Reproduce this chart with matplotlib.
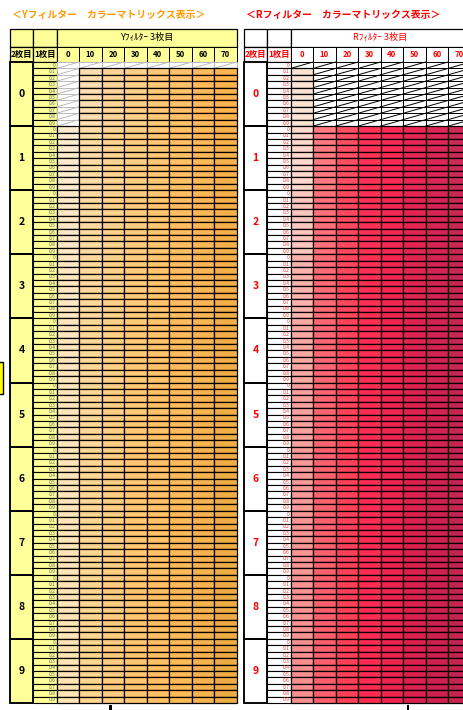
import matplotlib
matplotlib.use("Agg")
import matplotlib.pyplot as plt
from matplotlib.patches import Rectangle

plt.rcParams['font.family'] = ['Noto Sans CJK JP', 'DejaVu Sans']

# ---- data ----
second_vals = [0, 1, 2, 3, 4, 5, 6, 7, 8, 9]            # 2枚目
first_labels = ["0", "0.1", "0.2", "0.3", "0.4", "0.5", "0.6", "0.7", "0.8", "0.9"]  # 1枚目
third_labels = ["0", "10", "20", "30", "40", "50", "60", "70"]                      # 3枚目

y_colors = [
    ['#FFFFFF', '#FFDDB0', '#FFD496', '#FFCF88', '#FFC978', '#FFC26A', '#FFBB5A', '#FDB44C'],
    ['#FFEBD0', '#FFDCA6', '#FFD390', '#FFCD82', '#FFC774', '#FFC066', '#FCB958', '#F8B24C'],
    ['#FFE8C6', '#FFDAA0', '#FFD18A', '#FFCB7E', '#FFC570', '#FFBE62', '#FAB756', '#F5B04A'],
    ['#FFE7C0', '#FFD99C', '#FFD088', '#FFCA7A', '#FFC46C', '#FDBD60', '#F9B654', '#F3AF48'],
    ['#FFE6BC', '#FFD898', '#FFCF84', '#FFC976', '#FFC36A', '#FCBC5E', '#F7B552', '#F1AE46'],
    ['#FFE6BA', '#FFD796', '#FFCE82', '#FFC874', '#FFC268', '#FCBB5C', '#F6B451', '#F0AE46'],
    ['#FFE5B8', '#FFD794', '#FFCD81', '#FFC773', '#FFC167', '#FBBB5B', '#F5B450', '#EFAD45'],
    ['#FFE5B7', '#FFD692', '#FFCD80', '#FFC772', '#FFC166', '#FBBA5A', '#F5B34F', '#EEAD45'],
    ['#FFE4B5', '#FFD691', '#FFCC7F', '#FFC671', '#FFC065', '#FABA59', '#F4B34E', '#EEAD44'],
    ['#FFE4B4', '#FFD690', '#FFCC7E', '#FFC670', '#FFC064', '#FABA58', '#F4B34E', '#EDAD44'],
]

r_colors = [
    ['#FCE4D2', '#FFFFFF', '#FFFFFF', '#FFFFFF', '#FFFFFF', '#FFFFFF', '#FFFFFF', '#FFFFFF'],
    ['#FED8CC', '#FF7A80', '#FF4D62', '#FF3256', '#FA2A54', '#E82754', '#DA2755', '#CC2A56'],
    ['#FCC6BE', '#FF7078', '#FF485E', '#FF3055', '#F42852', '#E42552', '#D62554', '#C92855'],
    ['#FAB2AA', '#FE6A74', '#FF455C', '#FF2E54', '#F22651', '#E22451', '#D42453', '#C82754'],
    ['#F9A8A2', '#FD6672', '#FE435B', '#FE2D53', '#F02550', '#E02350', '#D22352', '#C72653'],
    ['#F8A09C', '#FC6470', '#FE425A', '#FE2C52', '#EF244F', '#DF224F', '#D12251', '#C62552'],
    ['#F89A98', '#FC626E', '#FE4159', '#FE2B52', '#EF244F', '#DE224F', '#D02251', '#C62552'],
    ['#F89694', '#FB606D', '#FD4059', '#FD2A51', '#EE234E', '#DD214E', '#CF2150', '#C52451'],
    ['#F89391', '#FB5F6C', '#FD4058', '#FD2A51', '#EE234E', '#DD214E', '#CF2150', '#C52451'],
    ['#F8908F', '#FB5F6C', '#FD4058', '#FD2A51', '#EE234E', '#DD214E', '#CF2150', '#C52451'],
]

# ---- figure in pixel units ----
W, H = 464, 710
fig = plt.figure(figsize=(W / 100, H / 100), dpi=100)
ax = fig.add_axes([0, 0, 1, 1])
ax.set_xlim(0, W)
ax.set_ylim(H, 0)
ax.axis('off')

YELLOW = '#FFFF99'
TOP = 29.0
H1 = 17.5
H2 = 15.5
ROW_H = 6.41
COL_W = 22.5
LAB1_W = 23.3
LAB2_W = 23.3


def cell(x, y, w, h, fc, ec='black', lw=0.9, z=1):
    ax.add_patch(Rectangle((x, y), w, h, facecolor=fc, edgecolor=ec, lw=lw, zorder=z))


def draw_table(x0, colors, hatched, head_fc, txt_color, lab_color, title, title_color, sub_title):
    ax.text(x0 + 2, 14.5, title, color=title_color, fontsize=7.1, fontweight='bold',
            ha='left', va='center')
    xd = x0 + LAB2_W + LAB1_W
    data_w = COL_W * len(third_labels)
    # header row 1
    cell(x0, TOP, LAB2_W, H1, head_fc)
    cell(x0 + LAB2_W, TOP, LAB1_W, H1, head_fc)
    cell(xd, TOP, data_w, H1, head_fc)
    ax.text(xd + data_w / 2, TOP + H1 / 2, sub_title, color=txt_color, fontsize=6.6,
            ha='center', va='center')
    # header row 2
    y2 = TOP + H1
    cell(x0, y2, LAB2_W, H2, head_fc)
    ax.text(x0 + LAB2_W / 2, y2 + H2 / 2, "2枚目", color=txt_color, fontsize=6.0,
            fontweight='bold', ha='center', va='center')
    cell(x0 + LAB2_W, y2, LAB1_W, H2, head_fc)
    ax.text(x0 + LAB2_W + LAB1_W / 2, y2 + H2 / 2, "1枚目", color=txt_color, fontsize=6.0,
            fontweight='bold', ha='center', va='center')
    for j, t in enumerate(third_labels):
        cell(xd + j * COL_W, y2, COL_W, H2, head_fc, lw=0.7)
        ax.text(xd + j * COL_W + COL_W / 2, y2 + H2 / 2, t, color=txt_color, fontsize=5.6,
                fontweight='bold', ha='center', va='center')
    # body
    yb = y2 + H2
    for b, s in enumerate(second_vals):
        by = yb + b * ROW_H * len(first_labels)
        bh = ROW_H * len(first_labels)
        cell(x0, by, LAB2_W, bh, head_fc, lw=1.1, z=2)
        ax.text(x0 + LAB2_W / 2, by + bh / 2, str(s), color=txt_color, fontsize=7.5,
                fontweight='bold', ha='center', va='center', zorder=3)
        for i, fl in enumerate(first_labels):
            ry = by + i * ROW_H
            cell(x0 + LAB2_W, ry, LAB1_W, ROW_H, lab_color[0], lw=0.8)
            ax.text(x0 + LAB2_W + LAB1_W - 1.2, ry + ROW_H / 2 + 0.2, fl, color=lab_color[1],
                    fontsize=3.6, ha='right', va='center')
            for j in range(len(third_labels)):
                cx = xd + j * COL_W
                if hatched(b, i, j):
                    hc = lab_color[2]
                    cell(cx, ry, COL_W, ROW_H, '#FFFFFF', ec=hc, lw=0.7, z=1)
                    ax.plot([cx, cx + COL_W], [ry + ROW_H, ry], color=hc, lw=0.7, zorder=1.5)
                else:
                    cell(cx, ry, COL_W, ROW_H, colors[b][j], lw=0.9, z=2)
        cell(x0, by, LAB2_W, bh, 'none', lw=1.1, z=4)


def y_hatch(b, i, j):
    return second_vals[b] == 0 and (i == 0 or j == 0)


def r_hatch(b, i, j):
    return second_vals[b] == 0 and (i == 0 or j > 0)


draw_table(10.0, y_colors, y_hatch, YELLOW, '#000000', (YELLOW, '#666666', '#BBBBBB'),
           "＜Yフィルター　カラーマトリックス表示＞", '#FF9900', "Yﾌｨﾙﾀｰ 3枚目")
draw_table(244.0, r_colors, r_hatch, '#FFFFFF', '#FF0000', ('#FFFFFF', '#FF3333', '#000000'),
           "＜Rフィルター　カラーマトリックス表示＞", '#FF0000', "Rﾌｨﾙﾀｰ 3枚目")

# small clipped yellow box at left edge
ax.add_patch(Rectangle((-4, 362), 7.5, 32, facecolor='#FFFF00', edgecolor='black', lw=1.0))
# small marks under the tables
ax.add_patch(Rectangle((109.5, 704.5), 2.2, 6, facecolor='black', edgecolor='none'))
ax.add_patch(Rectangle((407.0, 704.5), 2.2, 6, facecolor='black', edgecolor='none'))

fig.savefig('out.png', dpi=100)
